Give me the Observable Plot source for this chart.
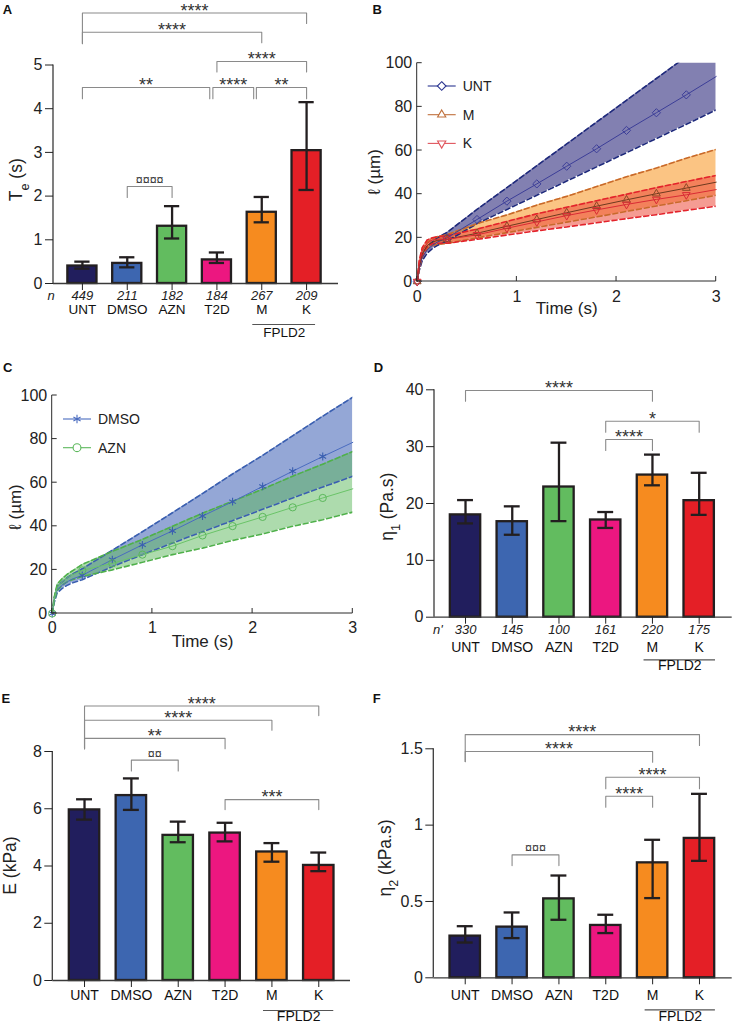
<!DOCTYPE html>
<html>
<head>
<meta charset="utf-8">
<script src="https://cdn.jsdelivr.net/npm/d3@7"></script>
<script src="https://cdn.jsdelivr.net/npm/@observablehq/plot@0.6"></script>
<style>
  html, body { margin: 0; padding: 0; background: #fff; }
  #fig { position: relative; width: 733px; height: 1026px; overflow: hidden; font-family: "Liberation Sans", Arial, Helvetica, sans-serif; }
  .panel { position: absolute; }
  .panel svg { overflow: visible; display: block; }
  .letter { position: absolute; font-weight: bold; font-size: 13px; color: #111; line-height: 1; font-family: "Liberation Sans", Arial, sans-serif; }
</style>
</head>
<body>
<div id="fig"></div>
<script>
// ---------------- DATA ----------------
const cats = ["UNT", "DMSO", "AZN", "T2D", "M", "K"];
const barColors = ["#211e5d", "#3d66b0", "#62bc5f", "#ec1780", "#f68b1f", "#e41f26"];

// Panel A : Te (s)
const teMean = [0.40, 0.46, 1.31, 0.54, 1.63, 3.04];
const teLo   = [0.34, 0.37, 1.03, 0.47, 1.40, 2.14];
const teHi   = [0.50, 0.60, 1.77, 0.71, 1.98, 4.15];
const teN    = ["449", "211", "182", "184", "267", "209"];
const teTicks = [0, 1, 2, 3, 4, 5];
const teBrackets = [
  {a: "UNT", b: "K",   y: 6.19, ya: 5.49, yb: 5.95, label: "****"},
  {a: "UNT", b: "M",   y: 5.75, ya: 5.49, yb: 5.51, label: "****"},
  {a: "T2D", b: "K",   y: 5.08, ya: 4.84, yb: 4.84, label: "****"},
  {a: "UNT", b: "T2D", y: 4.485, ya: 4.23, yb: 4.23, label: "**", sb: -0.16},
  {a: "T2D", b: "M",   y: 4.485, ya: 4.23, yb: 4.23, label: "****", sa: -0.09, sb: -0.18},
  {a: "M",   b: "K",   y: 4.485, ya: 4.23, yb: 4.23, label: "**", sa: -0.12},
  {a: "DMSO", b: "AZN", y: 2.22, ya: 1.97, yb: 1.97, label: "¤¤¤¤"}
];

// Panel B : l (um) vs time, UNT / M / K
const tB = [0, 0.02, 0.05, 0.1, 0.15, 0.2, 0.3, 0.6, 0.9, 1.2, 1.5, 1.8, 2.1, 2.4, 2.7, 3.0];
const untMean = [0, 6, 11, 14.5, 16.5, 18, 20, 28.4, 36.8, 44.7, 52.8, 60.8, 69.2, 77.3, 85.5, 93.9];
const untHi   = [0, 7, 12.5, 16, 18, 20, 22.5, 33, 43, 53, 63, 73, 83, 93, 103, 113];
const untLo   = [0, 5, 9.5, 13, 15, 16.5, 18.5, 26.5, 33, 39.5, 46, 52.5, 59, 65.5, 72, 78.6];
const mMean = [0, 7, 12.5, 16.5, 18, 18.8, 19.3, 22.1, 25.3, 28.4, 31.5, 34.5, 37.4, 40.2, 42.8, 45.5];
const mHi   = [0, 8.5, 14, 18, 19.5, 20.5, 21.5, 26.5, 30.5, 35, 39, 43.5, 48, 52, 56.5, 60.5];
const mLo   = [0, 5.5, 11, 15, 16.5, 17, 17.5, 20, 22.4, 24.8, 27.2, 29.6, 32.1, 34.6, 37, 39.5];
const kMean = [0, 8, 14, 17.5, 19, 19.4, 19.3, 21.4, 24.4, 27.3, 30.2, 32.8, 35.3, 37.6, 39.7, 42.1];
const kHi   = [0, 9.5, 15.5, 19, 20, 20.5, 21, 24, 27.5, 31, 34, 37, 40, 43, 45.8, 48.6];
const kLo   = [0, 6.5, 12, 16, 17.3, 17.5, 17.5, 19.3, 21.3, 23.2, 25, 26.9, 28.8, 30.6, 32.6, 34.5];
const markerTimes = [0, 0.3, 0.6, 0.9, 1.2, 1.5, 1.8, 2.1, 2.4, 2.7];
const lTicksY = [0, 20, 40, 60, 80, 100];
const lTicksX = [0, 1, 2, 3];

// Panel C : DMSO / AZN
const tC = [0, 0.02, 0.05, 0.1, 0.15, 0.2, 0.3, 0.6, 0.9, 1.2, 1.5, 1.8, 2.1, 2.4, 2.7, 3.0];
const dmsoMean = [0, 6, 11, 13, 14.5, 15.8, 17.5, 24.7, 31.5, 37.9, 44.7, 51.3, 58.3, 65.3, 72, 78.5];
const dmsoHi   = [0, 7, 12.5, 14.5, 16.5, 18, 20.5, 29, 37.5, 46.2, 55, 64, 72.5, 81.5, 90.5, 99.2];
const dmsoLo   = [0, 5, 9.5, 11.5, 13, 14, 15.5, 21.5, 27, 32.3, 37.5, 42.6, 47.8, 53, 58, 63];
const azMean = [0, 6.5, 12, 14.5, 16.5, 17.8, 19.8, 23, 27, 30.9, 35.8, 40.1, 44.3, 48.7, 53, 57.2];
const azHi   = [0, 7.5, 13.5, 16, 18, 19.5, 22.5, 28.5, 34, 40, 46, 51.5, 57, 63, 68.5, 74.3];
const azLo   = [0, 5.5, 10.5, 13, 14.5, 15.5, 17, 20, 23.5, 27, 30, 33.5, 36.5, 40, 43, 46.5];

// Panel D : eta1 (Pa.s)
const eta1Mean = [18.0, 16.8, 22.9, 17.1, 25.0, 20.5];
const eta1Lo   = [16.5, 14.5, 16.9, 15.7, 23.2, 18.0];
const eta1Hi   = [20.6, 19.5, 30.7, 18.5, 28.6, 25.4];
const eta1N    = ["330", "145", "100", "161", "220", "175"];
const eta1Ticks = [0, 10, 20, 30, 40];
const eta1Brackets = [
  {a: "UNT", b: "M", y: 39.88, ya: 38.0, yb: 38.0, label: "****"},
  {a: "T2D", b: "K", y: 34.48, ya: 32.54, yb: 32.54, label: "*"},
  {a: "T2D", b: "M", y: 31.26, ya: 29.32, yb: 29.32, label: "****"}
];

// Panel E : E (kPa)
const eMean = [5.96, 6.46, 5.07, 5.15, 4.49, 4.02];
const eLo   = [5.62, 5.96, 4.83, 4.86, 4.15, 3.82];
const eHi   = [6.33, 7.06, 5.55, 5.51, 4.80, 4.47];
const eTicks = [0, 2, 4, 6, 8];
const eBrackets = [
  {a: "UNT", b: "K",   y: 9.59, ya: 8.10, yb: 9.255, label: "****"},
  {a: "UNT", b: "M",   y: 9.09, ya: 8.10, yb: 8.74, label: "****"},
  {a: "UNT", b: "T2D", y: 8.46, ya: 8.10, yb: 8.10, label: "**"},
  {a: "DMSO", b: "AZN", y: 7.70, ya: 7.32, yb: 7.32, label: "¤¤"},
  {a: "T2D", b: "K",   y: 6.32, ya: 5.97, yb: 5.97, label: "***"}
];

// Panel F : eta2 (kPa.s)
const eta2Mean = [0.273, 0.332, 0.517, 0.343, 0.753, 0.913];
const eta2Lo   = [0.231, 0.260, 0.380, 0.293, 0.522, 0.766];
const eta2Hi   = [0.338, 0.428, 0.670, 0.413, 0.904, 1.205];
const eta2Ticks = [0, 0.5, 1, 1.5];
const eta2Brackets = [
  {a: "UNT", b: "K",   y: 1.593, ya: 1.416, yb: 1.522, label: "****"},
  {a: "UNT", b: "M",   y: 1.482, ya: 1.416, yb: 1.412, label: "****"},
  {a: "T2D", b: "K",   y: 1.314, ya: 1.238, yb: 1.238, label: "****"},
  {a: "T2D", b: "M",   y: 1.189, ya: 1.117, yb: 1.117, label: "****"},
  {a: "DMSO", b: "AZN", y: 0.805, ya: 0.735, yb: 0.735, label: "¤¤¤"}
];

// ---------------- HELPERS ----------------
const FONT = '"Liberation Sans", Arial, Helvetica, sans-serif';
const INK = "#231f20";
const AX = "#3a3a3a";
const baseStyle = {fontFamily: FONT, fontSize: "16px", color: "#222", background: "transparent", overflow: "visible"};
const fig = document.getElementById("fig");

function place(node, left, top, w) {
  const div = document.createElement("div");
  div.className = "panel";
  div.style.left = left + "px";
  div.style.top = top + "px";
  div.style.width = w + "px";
  div.appendChild(node);
  fig.appendChild(div);
}
function letter(ch, left, top) {
  const d = document.createElement("div");
  d.className = "letter";
  d.style.left = left + "px";
  d.style.top = top + "px";
  d.textContent = ch;
  fig.appendChild(d);
}

// vertical left axis line spanning the frame
function leftAxisLine(color) {
  return (index, scales, values, dim) => {
    const l = d3.create("svg:line")
      .attr("x1", dim.marginLeft).attr("x2", dim.marginLeft)
      .attr("y1", dim.marginTop).attr("y2", dim.height - dim.marginBottom)
      .attr("stroke", color).attr("stroke-width", 1.3);
    return l.node();
  };
}

// MATLAB style axes with inward ticks
function matlabAxes(xt, yt) {
  return (index, scales, values, dim) => {
    const g = d3.create("svg:g").attr("stroke", "#2b2b2b").attr("stroke-width", 1).attr("fill", "none");
    const L = dim.marginLeft, R = dim.width - dim.marginRight, T = dim.marginTop, B = dim.height - dim.marginBottom;
    g.append("line").attr("x1", L).attr("x2", L).attr("y1", T).attr("y2", B);
    g.append("line").attr("x1", L).attr("x2", R).attr("y1", B).attr("y2", B);
    for (const v of yt) { const y = scales.y(v); g.append("line").attr("x1", L).attr("x2", L + 5).attr("y1", y).attr("y2", y); }
    for (const v of xt) { const x = scales.x(v); g.append("line").attr("x1", x).attr("x2", x).attr("y1", B).attr("y2", B - 5); }
    return g.node();
  };
}

// rotated y label with optional subscripts: parts = [[text, isSub], ...]
function yLabel(parts, dx, dy, size) {
  return (index, scales, values, dim) => {
    const cx = dim.marginLeft + dx;
    const cy = (dim.marginTop + dim.height - dim.marginBottom) / 2 + dy;
    const t = d3.create("svg:text")
      .attr("transform", `translate(${cx},${cy}) rotate(-90)`)
      .attr("text-anchor", "middle").attr("dy", "0.36em")
      .attr("font-size", size).attr("fill", "#222").attr("font-family", FONT);
    for (const [s, sub] of parts) {
      const ts = t.append("tspan").text(s);
      if (sub) ts.attr("font-size", "72%").attr("baseline-shift", "sub");
    }
    return t.node();
  };
}

// legend for line panels
function legendBlock(items, dx, dy0, step) {
  return (index, scales, values, dim) => {
    const g = d3.create("svg:g");
    items.forEach((it, k) => {
      const y = dim.marginTop + dy0 + k * step, x0 = dim.marginLeft + dx;
      g.append("line").attr("x1", x0).attr("x2", x0 + 28).attr("y1", y).attr("y2", y)
        .attr("stroke", it.color).attr("stroke-width", 1.1);
      g.append("path").attr("d", d3.symbol(it.symbol, 48)())
        .attr("transform", `translate(${x0 + 14},${y}) rotate(${it.rotate || 0})`)
        .attr("fill", "white").attr("stroke", it.color).attr("stroke-width", 1.1);
      g.append("text").attr("x", x0 + 35).attr("y", y).attr("dy", "0.35em")
        .attr("text-anchor", "start")
        .attr("font-size", 14).attr("fill", "#222").attr("font-family", FONT).text(it.label);
    });
    return g.node();
  };
}

function barPanel(c) {
  const L = c.layout;
  const rows = cats.map((cat, k) => ({i: k + 1, cat, v: c.mean[k], lo: c.lo[k], hi: c.hi[k],
    n: c.n ? c.n[k] : null, color: barColors[k]}));
  const pos = name => cats.indexOf(name) + 1;
  const br = c.brackets.map((b, k) => ({k, label: b.label, y: b.y, ya: b.ya, yb: b.yb,
    xa: pos(b.a) + (b.sa || 0), xb: pos(b.b) + (b.sb || 0)}));
  const brPts = br.flatMap(b => [
    {k: b.k, x: b.xa, y: b.ya}, {k: b.k, x: b.xa, y: b.y},
    {k: b.k, x: b.xb, y: b.y}, {k: b.k, x: b.xb, y: b.yb}]);
  const stars = br.filter(b => !b.label.includes("¤"));
  const curr = br.filter(b => b.label.includes("¤"));
  const hw = 0.325, cap = 0.17;
  const fpA = pos("M") + L.fp[0], fpB = pos("K") + L.fp[1];
  const marks = [
    Plot.rect(rows, {x1: d => d.i - hw, x2: d => d.i + hw, y1: 0, y2: "v", fill: "color", stroke: INK, strokeWidth: 2.3}),
    Plot.ruleX(rows, {x: "i", y1: "lo", y2: "hi", stroke: INK, strokeWidth: 2.3}),
    Plot.ruleY(rows, {y: "hi", x1: d => d.i - cap, x2: d => d.i + cap, stroke: INK, strokeWidth: 2.3}),
    Plot.ruleY(rows, {y: "lo", x1: d => d.i - cap, x2: d => d.i + cap, stroke: INK, strokeWidth: 2.3}),
    Plot.ruleY([0], {stroke: AX, strokeWidth: 1.3}),
    leftAxisLine(AX),
    Plot.axisY({ticks: c.ticks, tickFormat: d => String(d), tickSize: 8, tickPadding: 3, label: null, fontSize: 16}),
    Plot.axisX({ticks: rows.map(d => d.i), tickSize: 7, tickFormat: () => "", label: null}),
    Plot.text(rows, {x: "i", text: "cat", frameAnchor: "bottom", dy: L.catDy, fontSize: L.catSize, fill: "#111"}),
    Plot.line(brPts, {x: "x", y: "y", z: "k", stroke: "#8a8a8a", strokeWidth: 1.1}),
    Plot.text(stars, {x: d => (d.xa + d.xb) / 2, y: "y", text: "label", fontSize: 18, dy: -2, fill: "#333"}),
    Plot.text(curr, {x: d => (d.xa + d.xb) / 2, y: "y", text: "label", fontSize: 12.5, dy: -6.5, fill: "#333"}),
    Plot.ruleY([0], {x1: fpA, x2: fpB, dy: L.fpLineDy, stroke: "#555", strokeWidth: 1.2}),
    Plot.text(["FPLD2"], {x: (fpA + fpB) / 2, text: d => d, frameAnchor: "bottom", dy: L.fpTextDy, fontSize: L.catSize, fill: "#111"}),
    yLabel(c.yLabel, L.ylDx, L.ylDy, 17.5)
  ];
  if (c.n) {
    marks.push(Plot.text(rows, {x: "i", text: "n", frameAnchor: "bottom", dy: L.nDy, fontSize: 13, fontStyle: "italic", fill: "#222"}));
    marks.push(Plot.text([c.nLabel], {text: d => d, frameAnchor: "bottom-left", dx: L.nDx, dy: L.nDy, fontSize: 13, fontStyle: "italic", fill: "#222"}));
  }
  return Plot.plot({
    width: L.w, height: L.h, marginLeft: L.ml, marginRight: L.mr, marginTop: L.mt, marginBottom: L.mb,
    x: {domain: [0.5, 6.5], range: L.xr},
    y: {domain: [0, c.ticks[c.ticks.length - 1]]},
    color: {type: "identity"},
    style: baseStyle,
    marks
  });
}

function rowsOf(t, m, lo, hi) { return t.map((tt, k) => ({t: tt, m: m[k], lo: lo[k], hi: hi[k]})); }
const isMarker = d => markerTimes.includes(d.t);
const plainFmt = d => String(d);

// ---------------- PANEL A ----------------
place(barPanel({
  mean: teMean, lo: teLo, hi: teHi, n: teN, nLabel: "n", ticks: teTicks, brackets: teBrackets,
  yLabel: [["T", false], ["e", true], [" (s)", false]],
  layout: {w: 345, h: 345, ml: 53, mr: 7, mt: 64.5, mb: 62, xr: [59.5, 328.5],
    catDy: 30, catSize: 13.5, nDy: 16, nDx: -6, fp: [-0.2, 0.2], fpLineDy: 41, fpTextDy: 53, ylDx: -37.3, ylDy: 6}
}), 0, 0, 345);

// ---------------- PANEL B ----------------
{
  const uR = rowsOf(tB, untMean, untLo, untHi);
  const mR = rowsOf(tB, mMean, mLo, mHi);
  const kR = rowsOf(tB, kMean, kLo, kHi);
  const dash = {strokeWidth: 1.6, strokeDasharray: "5,3", clip: true};
  place(Plot.plot({
    width: 393, height: 330, marginLeft: 76.7, marginRight: 17.3, marginTop: 62.7, marginBottom: 49,
    x: {domain: [0, 3]}, y: {domain: [0, 100]},
    style: baseStyle,
    marks: [
      Plot.areaY(uR, {x: "t", y1: "lo", y2: "hi", fill: "#8280b1", clip: true}),
      Plot.areaY(mR, {x: "t", y1: "lo", y2: "hi", fill: "#f7941d", fillOpacity: 0.55, clip: true}),
      Plot.areaY(kR, {x: "t", y1: "lo", y2: "hi", fill: "#ec4a3a", fillOpacity: 0.55, clip: true}),
      Plot.line(uR, {x: "t", y: "hi", stroke: "#1f2a7c", ...dash}),
      Plot.line(uR, {x: "t", y: "lo", stroke: "#1f2a7c", ...dash}),
      Plot.line(mR, {x: "t", y: "hi", stroke: "#c8692a", ...dash}),
      Plot.line(mR, {x: "t", y: "lo", stroke: "#c8692a", ...dash}),
      Plot.line(kR, {x: "t", y: "hi", stroke: "#e3232b", ...dash}),
      Plot.line(kR, {x: "t", y: "lo", stroke: "#e3232b", ...dash}),
      Plot.line(uR, {x: "t", y: "m", stroke: "#3c3e98", strokeWidth: 1}),
      Plot.dot(uR.filter(isMarker), {x: "t", y: "m", symbol: "diamond2", r: 3.7, stroke: "#3c3e98", fill: "none", strokeWidth: 1}),
      Plot.line(mR, {x: "t", y: "m", stroke: "#6e3a1e", strokeWidth: 1}),
      Plot.dot(mR.filter(isMarker), {x: "t", y: "m", symbol: "triangle2", r: 3.7, stroke: "#8b4a26", fill: "none", strokeWidth: 1}),
      Plot.line(kR, {x: "t", y: "m", stroke: "#d92b35", strokeWidth: 1}),
      Plot.dot(kR.filter(isMarker), {x: "t", y: "m", symbol: "triangle2", rotate: 180, r: 3.7, stroke: "#d92b35", fill: "none", strokeWidth: 1}),
      matlabAxes(lTicksX, lTicksY),
      Plot.axisY({ticks: lTicksY, tickFormat: plainFmt, tickSize: 0, tickPadding: 5, label: null, fontSize: 16}),
      Plot.axisX({ticks: lTicksX, tickFormat: plainFmt, tickSize: 0, tickPadding: 9.3, label: null, fontSize: 16}),
      Plot.text(["Time (s)"], {text: d => d, frameAnchor: "bottom", dy: 32, fontSize: 17, fill: "#222"}),
      yLabel([["ℓ", false], [" (µm)", false]], -42.7, 0, 17),
      legendBlock([
        {label: "UNT", color: "#2b3590", symbol: d3.symbolDiamond2},
        {label: "M", color: "#c0703c", symbol: d3.symbolTriangle2},
        {label: "K", color: "#e0555c", symbol: d3.symbolTriangle2, rotate: 180}
      ], 11, 23.3, 28.7)
    ]
  }), 340, 0, 393);
}

// ---------------- PANEL C ----------------
{
  const dR = rowsOf(tC, dmsoMean, dmsoLo, dmsoHi);
  const aR = rowsOf(tC, azMean, azLo, azHi);
  const dash = {strokeWidth: 1.6, strokeDasharray: "5,3", clip: true};
  place(Plot.plot({
    width: 360, height: 335, marginLeft: 51.7, marginRight: 7.7, marginTop: 50, marginBottom: 67,
    x: {domain: [0, 3]}, y: {domain: [0, 100]},
    style: baseStyle,
    marks: [
      Plot.areaY(dR, {x: "t", y1: "lo", y2: "hi", fill: "#3c5fb5", fillOpacity: 0.55, clip: true}),
      Plot.areaY(aR, {x: "t", y1: "lo", y2: "hi", fill: "#5cb85c", fillOpacity: 0.5, clip: true}),
      Plot.line(dR, {x: "t", y: "hi", stroke: "#3a5fb0", ...dash}),
      Plot.line(dR, {x: "t", y: "lo", stroke: "#3a5fb0", ...dash}),
      Plot.line(aR, {x: "t", y: "hi", stroke: "#4fb04a", ...dash}),
      Plot.line(aR, {x: "t", y: "lo", stroke: "#4fb04a", ...dash}),
      Plot.line(dR, {x: "t", y: "m", stroke: "#4a6cc0", strokeWidth: 1}),
      Plot.dot(dR.filter(isMarker), {x: "t", y: "m", symbol: "asterisk", r: 3.7, stroke: "#3a5fb0", strokeWidth: 1.1}),
      Plot.line(aR, {x: "t", y: "m", stroke: "#6ac468", strokeWidth: 1}),
      Plot.dot(aR.filter(isMarker), {x: "t", y: "m", symbol: "circle", r: 3.6, stroke: "#5cb85c", fill: "none", strokeWidth: 1}),
      matlabAxes(lTicksX, lTicksY),
      Plot.axisY({ticks: lTicksY, tickFormat: plainFmt, tickSize: 0, tickPadding: 5, label: null, fontSize: 16}),
      Plot.axisX({ticks: lTicksX, tickFormat: plainFmt, tickSize: 0, tickPadding: 8.3, label: null, fontSize: 16}),
      Plot.text(["Time (s)"], {text: d => d, frameAnchor: "bottom", dy: 33, fontSize: 17, fill: "#222"}),
      yLabel([["ℓ", false], [" (µm)", false]], -36.7, 3, 17),
      legendBlock([
        {label: "DMSO", color: "#4a6cc0", symbol: d3.symbolAsterisk},
        {label: "AZN", color: "#5cb85c", symbol: d3.symbolCircle}
      ], 11.3, 24, 28.7)
    ]
  }), 0, 345, 360);
}

// ---------------- PANEL D ----------------
place(barPanel({
  mean: eta1Mean, lo: eta1Lo, hi: eta1Hi, n: eta1N, nLabel: "n'", ticks: eta1Ticks, brackets: eta1Brackets,
  yLabel: [["η", false], ["1", true], [" (Pa.s)", false]],
  layout: {w: 373, h: 350, ml: 74, mr: 1.3, mt: 59.3, mb: 63.3, xr: [81.65, 362.05],
    catDy: 34.3, catSize: 14, nDy: 16.6, nDx: -1.5, fp: [-0.18, 0.35], fpLineDy: 42.6, fpTextDy: 52.6, ylDx: -47.3, ylDy: 3.7}
}), 360, 330, 373);

// ---------------- PANEL E ----------------
place(barPanel({
  mean: eMean, lo: eLo, hi: eHi, ticks: eTicks, brackets: eBrackets,
  yLabel: [["E (kPa)", false]],
  layout: {w: 360, h: 346, ml: 52.3, mr: 10, mt: 71, mb: 46, xr: [60.6, 341.7],
    catDy: 19.3, catSize: 14, fp: [-0.18, 0.32], fpLineDy: 30, fpTextDy: 40, ylDx: -42.3, ylDy: 0}
}), 0, 680, 360);

// ---------------- PANEL F ----------------
place(barPanel({
  mean: eta2Mean, lo: eta2Lo, hi: eta2Hi, ticks: eta2Ticks, brackets: eta2Brackets,
  yLabel: [["η", false], ["2", true], [" (kPa.s)", false]],
  layout: {w: 373, h: 346, ml: 73.3, mr: 1.3, mt: 68.3, mb: 48.7, xr: [81.3, 362.4],
    catDy: 22, catSize: 14, fp: [-0.16, 0.34], fpLineDy: 32, fpTextDy: 42.7, ylDx: -48.3, ylDy: -4.8}
}), 360, 680, 373);

// panel letters
letter("A", 2.7, 2.6);
letter("B", 372.5, 2.6);
letter("C", 3, 360.6);
letter("D", 373.7, 360.6);
letter("E", 1.5, 691.6);
letter("F", 372.7, 691.6);
</script>
</body>
</html>
